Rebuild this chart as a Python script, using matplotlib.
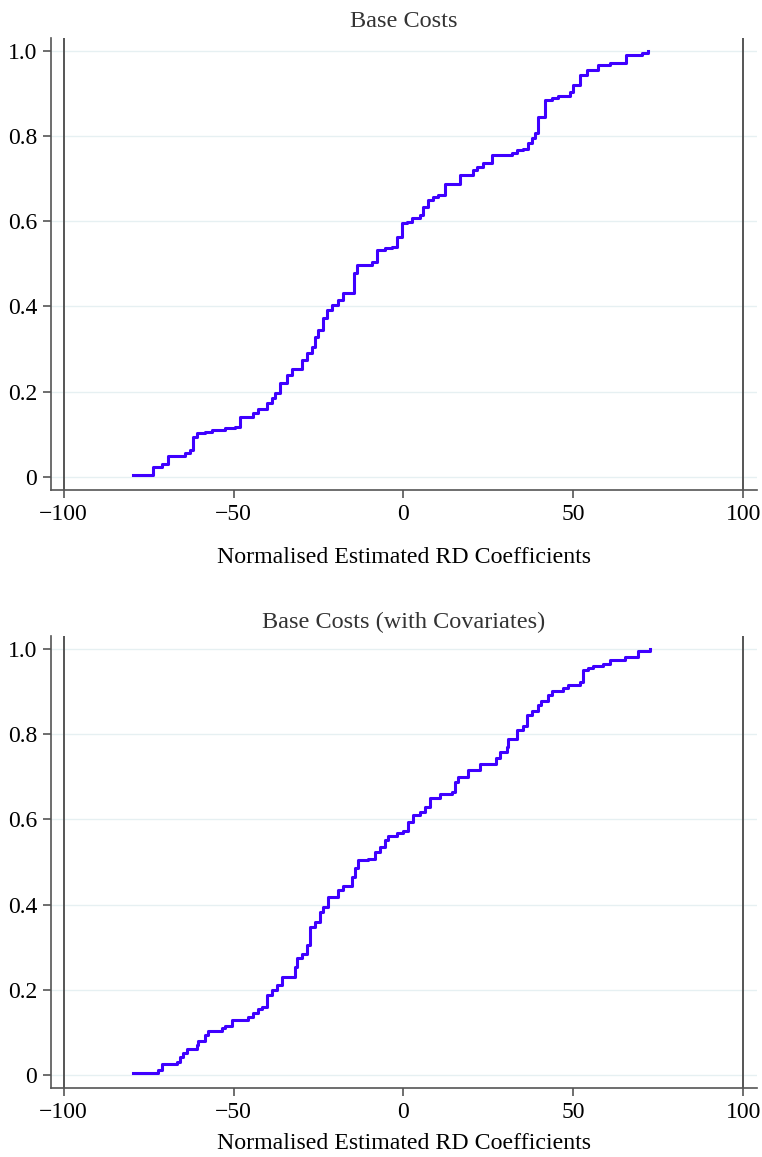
import matplotlib
matplotlib.use("Agg")
import matplotlib.pyplot as plt

plt.rcParams['font.family'] = ['Liberation Serif', 'DejaVu Serif']
plt.rcParams['axes.unicode_minus'] = True

# panel 1: Base Costs (ECDF step breakpoints)
base_x = [-79.5, -73.6, -71.1, -69.2, -64.3, -62.8, -61.8, -60.8, -58.4, -56.4,
          -52.5, -49.6, -48.1, -44.2, -42.7, -40.2, -38.8, -37.8, -36.3, -34.4,
          -32.9, -29.9, -28.5, -27.0, -26.0, -25.0, -23.6, -22.6, -21.1, -19.2,
          -17.7, -14.5, -13.8, -9.4, -7.9, -5.4, -3.5, -2.0, -0.5, 0.9,
          2.4, 4.9, 5.8, 7.3, 8.8, 10.2, 12.2, 16.6, 20.5, 21.5,
          23.5, 25.9, 31.8, 33.3, 35.2, 36.7, 37.7, 38.7, 39.6, 41.6,
          43.6, 45.5, 49.0, 49.9, 51.9, 53.9, 57.3, 60.7, 65.6, 70.1, 72.0]
base_y = [0.004, 0.023, 0.031, 0.049, 0.056, 0.063, 0.094, 0.102, 0.106, 0.110,
          0.114, 0.117, 0.141, 0.149, 0.160, 0.172, 0.184, 0.196, 0.219, 0.239,
          0.254, 0.274, 0.290, 0.305, 0.328, 0.344, 0.372, 0.391, 0.403, 0.415,
          0.430, 0.477, 0.497, 0.504, 0.532, 0.536, 0.540, 0.563, 0.595, 0.598,
          0.606, 0.614, 0.634, 0.649, 0.657, 0.661, 0.688, 0.708, 0.720, 0.727,
          0.735, 0.755, 0.759, 0.767, 0.770, 0.782, 0.794, 0.806, 0.845, 0.884,
          0.888, 0.893, 0.903, 0.919, 0.943, 0.954, 0.966, 0.970, 0.989, 0.995, 1.0]

# panel 2: Base Costs (with Covariates)
cov_x = [-79.5, -72.1, -71.1, -66.7, -65.7, -64.8, -63.8, -60.8, -60.4, -58.4,
         -57.4, -53.5, -52.5, -50.5, -45.6, -44.2, -42.7, -41.7, -40.2, -38.8,
         -37.3, -35.8, -31.9, -31.4, -29.9, -28.5, -27.5, -26.0, -24.6, -23.6,
         -22.1, -19.2, -17.7, -15.2, -14.3, -13.3, -10.4, -8.4, -6.9, -5.4,
         -4.5, -2.0, -0.1, 1.4, 2.9, 4.9, 6.3, 7.8, 10.7, 14.2,
         15.1, 16.1, 19.1, 22.5, 27.2, 28.4, 30.4, 30.8, 33.3, 35.2,
         36.2, 37.7, 39.6, 40.6, 42.6, 43.6, 47.0, 48.5, 51.9, 52.9,
         54.4, 55.8, 58.8, 60.7, 65.1, 69.1, 72.5]
cov_y = [0.004, 0.012, 0.026, 0.031, 0.043, 0.051, 0.060, 0.070, 0.080, 0.094,
         0.104, 0.110, 0.115, 0.129, 0.137, 0.145, 0.156, 0.160, 0.188, 0.199,
         0.211, 0.231, 0.254, 0.274, 0.285, 0.305, 0.348, 0.360, 0.383, 0.395,
         0.418, 0.434, 0.443, 0.465, 0.485, 0.504, 0.508, 0.524, 0.536, 0.551,
         0.561, 0.567, 0.573, 0.594, 0.610, 0.618, 0.629, 0.649, 0.659, 0.665,
         0.688, 0.700, 0.715, 0.730, 0.743, 0.758, 0.770, 0.789, 0.809, 0.819,
         0.844, 0.854, 0.868, 0.878, 0.891, 0.901, 0.907, 0.916, 0.923, 0.950,
         0.956, 0.959, 0.964, 0.973, 0.980, 0.995, 1.0]

titles = ["Base Costs", "Base Costs (with Covariates)"]
xlabel = "Normalised Estimated RD Coefficients"
xticks = [-100, -50, 0, 50, 100]
yticks = [0, 0.2, 0.4, 0.6, 0.8, 1.0]
ytick_labels = ["0", "0.2", "0.4", "0.6", "0.8", "1.0"]

fig = plt.figure(figsize=(7.62, 11.57), dpi=100)
axes = [fig.add_axes([0.0669, 0.5765, 0.9265, 0.3909]),
        fig.add_axes([0.0669, 0.0594, 0.9265, 0.3909])]

line_col = "#3f00ff"
spine_col = "#555555"

for ax, xs, ys, title, lpad, tpad in zip(axes, [base_x, cov_x], [base_y, cov_y],
                                         titles, [16, 7], [8, 6]):
    ax.set_xlim(-103.7, 104)
    ax.set_ylim(-0.031, 1.03)
    for y in yticks:
        ax.axhline(y, color="#e6f0f2", lw=1.0, zorder=0)
    ax.axvline(-100, color=spine_col, lw=1.4, zorder=1)
    ax.axvline(100, color=spine_col, lw=1.4, zorder=1)
    ax.step(xs, ys, where="post", color=line_col, lw=2.2, zorder=3)
    for s in ["top", "right"]:
        ax.spines[s].set_visible(False)
    for s in ["left", "bottom"]:
        ax.spines[s].set_color(spine_col)
        ax.spines[s].set_linewidth(1.2)
    ax.set_xticks(xticks)
    ax.set_yticks(yticks)
    ax.set_yticklabels(ytick_labels)
    ax.tick_params(axis="both", colors=spine_col, labelcolor="black",
                   labelsize=17, length=6, width=1.2, pad=4)
    ax.set_title(title, fontsize=17.5, color="#333333", pad=tpad)
    ax.set_xlabel(xlabel, fontsize=17.2, color="black", labelpad=lpad)

fig.savefig("out.png", dpi=100)
